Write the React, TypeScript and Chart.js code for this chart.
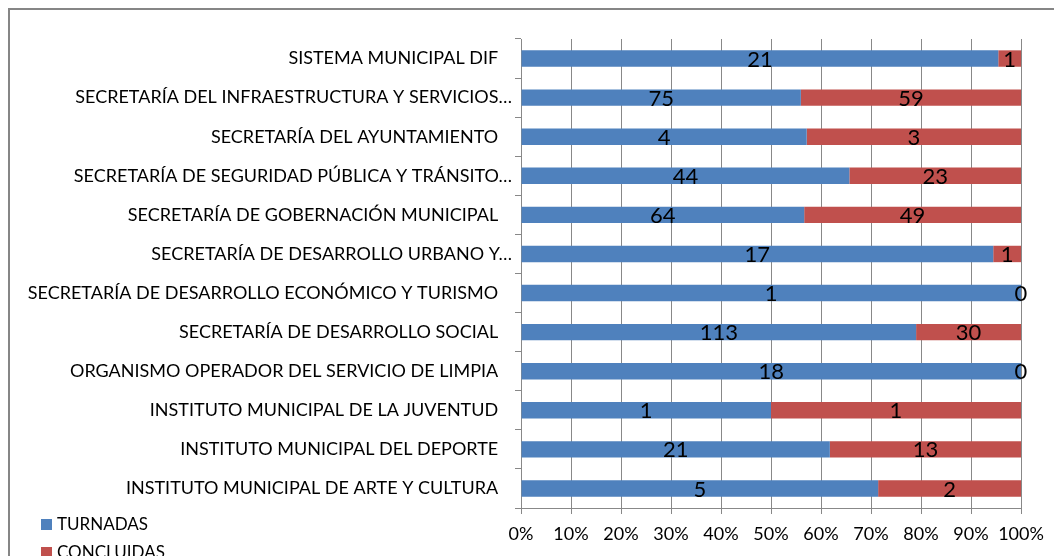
import React, { useEffect, useRef } from "react";
import { Chart, registerables } from "chart.js";

Chart.register(...registerables);

const categories: string[] = [
  "SISTEMA MUNICIPAL DIF",
  "SECRETARÍA DEL INFRAESTRUCTURA Y SERVICIOS…",
  "SECRETARÍA DEL AYUNTAMIENTO",
  "SECRETARÍA DE SEGURIDAD PÚBLICA Y TRÁNSITO…",
  "SECRETARÍA DE GOBERNACIÓN MUNICIPAL",
  "SECRETARÍA DE DESARROLLO URBANO Y…",
  "SECRETARÍA DE DESARROLLO ECONÓMICO Y TURISMO",
  "SECRETARÍA DE DESARROLLO SOCIAL",
  "ORGANISMO OPERADOR DEL SERVICIO DE LIMPIA",
  "INSTITUTO MUNICIPAL DE LA JUVENTUD",
  "INSTITUTO MUNICIPAL DEL DEPORTE",
  "INSTITUTO MUNICIPAL DE ARTE Y CULTURA",
];

const turnadas: number[] = [21, 75, 4, 44, 64, 17, 1, 113, 18, 1, 21, 5];
const concluidas: number[] = [1, 59, 3, 23, 49, 1, 0, 30, 0, 1, 13, 2];

const seriesNames: string[] = ["TURNADAS", "CONCLUIDAS"];
const seriesColors: string[] = ["#4F81BD", "#C0504D"];

const FONT = "Lato";
const GRID = "#888888";

const toPct = (vals: number[]) =>
  vals.map((v, i) => {
    const total = turnadas[i] + concluidas[i];
    return total === 0 ? 0 : (v / total) * 100;
  });

const valueLabels = {
  id: "valueLabels",
  afterDatasetsDraw(chart: any) {
    const ctx = chart.ctx;
    ctx.save();
    ctx.font = `22px ${FONT}`;
    ctx.fillStyle = "#000";
    ctx.textAlign = "center";
    ctx.textBaseline = "middle";
    chart.data.datasets.forEach((ds: any, di: number) => {
      const meta = chart.getDatasetMeta(di);
      meta.data.forEach((el: any, i: number) => {
        const p = el.getProps(["x", "base", "y"], true);
        ctx.fillText(String(ds.rawValues[i]), (p.x + p.base) / 2, p.y + 1);
      });
    });
    ctx.restore();
  },
};

export default function App() {
  const ref = useRef<HTMLCanvasElement | null>(null);

  useEffect(() => {
    document.documentElement.style.overflow = "hidden";
    document.body.style.overflow = "hidden";
    if (!ref.current) return;
    const chart = new Chart(ref.current, {
      type: "bar",
      data: {
        labels: categories,
        datasets: [
          {
            label: seriesNames[0],
            data: toPct(turnadas),
            rawValues: turnadas,
            backgroundColor: seriesColors[0],
            barPercentage: 0.42,
            categoryPercentage: 1,
          } as any,
          {
            label: seriesNames[1],
            data: toPct(concluidas),
            rawValues: concluidas,
            backgroundColor: seriesColors[1],
            barPercentage: 0.42,
            categoryPercentage: 1,
          } as any,
        ],
      },
      options: {
        indexAxis: "y",
        animation: false,
        responsive: false,
        layout: { padding: { top: 29, right: 39, left: 0, bottom: 0 } },
        plugins: {
          legend: { display: false },
          tooltip: { enabled: false },
        },
        scales: {
          x: {
            stacked: true,
            min: 0,
            max: 100,
            afterFit: (s: any) => {
              s.height = 62;
            },
            ticks: {
              stepSize: 10,
              callback: (v: any) => `${v}%`,
              color: "#000",
              font: { family: FONT, size: 18 },
              padding: 9,
              maxRotation: 0,
            },
            grid: { color: GRID, tickLength: 6, lineWidth: 1 },
            border: { color: GRID, width: 1 },
          },
          y: {
            stacked: true,
            afterFit: (s: any) => {
              s.width = 511;
            },
            ticks: {
              color: "#000",
              font: { family: FONT, size: 18 },
              padding: 3,
              autoSkip: false,
              callback: (_v: any, i: number) =>
                categories[i].endsWith("…") ? categories[i] : categories[i] + "   ",
            },
            grid: {
              color: GRID,
              drawOnChartArea: false,
              tickLength: 6,
              offset: true,
            },
            border: { color: GRID, width: 1 },
          },
        },
      },
      plugins: [valueLabels],
    });
    return () => chart.destroy();
  }, []);

  return (
    <div
      style={{
        position: "relative",
        width: 1080,
        height: 600,
        border: "2px solid #868686",
        boxSizing: "border-box",
        background: "#fff",
      }}
    >
      <canvas ref={ref} width={1050} height={560} style={{ display: "block" }} />
      <div
        style={{
          position: "absolute",
          left: 31,
          top: 500,
          fontFamily: FONT,
          fontSize: 17,
          color: "#000",
          lineHeight: "28px",
        }}
      >
        {seriesNames.map((n, i) => (
          <div key={n} style={{ display: "flex", alignItems: "center" }}>
            <span
              style={{
                display: "inline-block",
                width: 11,
                height: 11,
                background: seriesColors[i],
                marginRight: 5,
              }}
            />
            <span>{n}</span>
          </div>
        ))}
      </div>
    </div>
  );
}
